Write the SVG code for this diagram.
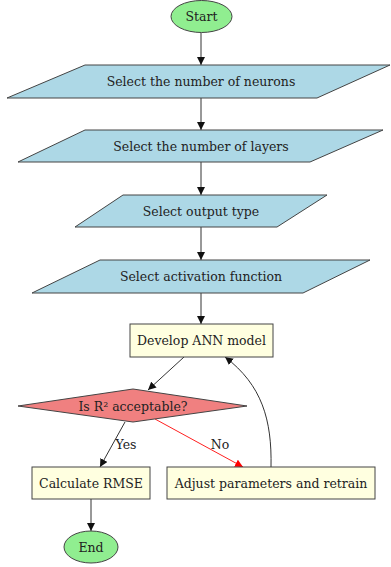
<svg xmlns="http://www.w3.org/2000/svg" width="391" height="567" viewBox="0 0 391 567">
<defs>
<style>
text{font-family:"DejaVu Serif","Liberation Serif",serif;font-size:12.5px;fill:#222;text-anchor:middle;dominant-baseline:central}
.io{fill:#add8e6;stroke:#444;stroke-width:1}
.term{fill:#90ee90;stroke:#444;stroke-width:1}
.proc{fill:#ffffe0;stroke:#444;stroke-width:1}
.dec{fill:#f08080;stroke:#444;stroke-width:1}
.e{fill:none;stroke:#333;stroke-width:1;marker-end:url(#ah)}
.r{fill:none;stroke:#ff2020;stroke-width:1;marker-end:url(#ahr)}
</style>
<marker id="ah" viewBox="0 0 10 10" refX="10" refY="5" markerWidth="8" markerHeight="8" markerUnits="userSpaceOnUse" orient="auto"><path d="M0,0 L10,5 L0,10 z" fill="#111"/></marker>
<marker id="ahr" viewBox="0 0 10 10" refX="10" refY="5" markerWidth="8" markerHeight="8" markerUnits="userSpaceOnUse" orient="auto"><path d="M0,0 L10,5 L0,10 z" fill="#ff0000"/></marker>
</defs>
<rect width="391" height="567" fill="#fff"/>
<g id="connectors">
<path class="e" d="M201,33 L201,65"/>
<path class="e" d="M201,98 L201,130"/>
<path class="e" d="M201,162 L201,195"/>
<path class="e" d="M201,227 L201,260"/>
<path class="e" d="M201,293 L201,324"/>
<path class="e" d="M184,357 L148,390"/>
<path class="e" d="M125,422 L100,467"/>
<text x="126" y="444">Yes</text>
<path class="r" d="M155,419 L243,467"/>
<text x="220" y="444">No</text>
<path class="e" d="M271,467 C272,420 262,385 225,357"/>
<path class="e" d="M91,499 L91,531"/>
</g>
<g id="start"><ellipse class="term" cx="201.5" cy="16.5" rx="30.5" ry="16"/><text x="201.5" y="16.5">Start</text></g>
<g id="neurons"><polygon class="io" points="85,65 390,65 317,98 7,98"/><text x="201" y="81.5">Select the number of neurons</text></g>
<g id="layers"><polygon class="io" points="85,130 383,130 310,162 18,162"/><text x="201" y="146">Select the number of layers</text></g>
<g id="output"><polygon class="io" points="123,195 327,195 277,227 75,227"/><text x="201" y="211">Select output type</text></g>
<g id="activation"><polygon class="io" points="100,260 370,260 303,293 32,293"/><text x="201" y="276">Select activation function</text></g>
<g id="develop"><rect class="proc" x="130" y="324" width="143" height="33"/><text x="201.5" y="340.5">Develop ANN model</text></g>
<g id="decision"><polygon class="dec" points="133,389 247,406 133,422 18,406"/><text x="133" y="406">Is R² acceptable?</text></g>
<g id="rmse"><rect class="proc" x="32" y="467" width="118" height="32"/><text x="91" y="483">Calculate RMSE</text></g>
<g id="adjust"><rect class="proc" x="167" y="467" width="208" height="32"/><text x="271" y="483">Adjust parameters and retrain</text></g>
<g id="end"><ellipse class="term" cx="91" cy="547" rx="27" ry="16"/><text x="91" y="547">End</text></g>
</svg>
